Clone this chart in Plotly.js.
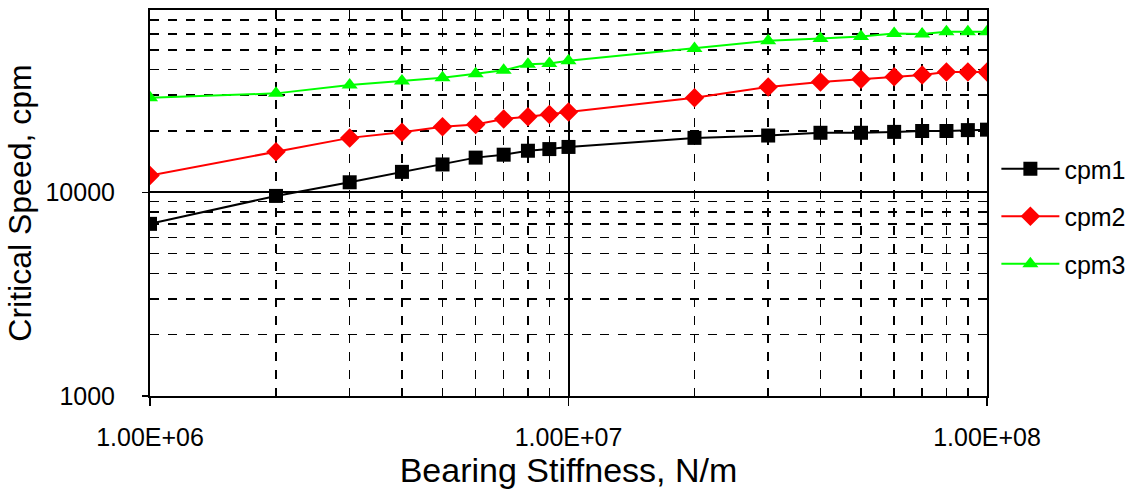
<!DOCTYPE html>
<html>
<head>
<meta charset="utf-8">
<script src="https://cdn.plot.ly/plotly-3.0.1.min.js"></script>
<style>html,body{margin:0;padding:0;background:#fff;}#chart{width:1140px;height:492px;}</style>
</head>
<body>
<div id="chart"></div>
<script>
const stiffness = [1e6, 2e6, 3e6, 4e6, 5e6, 6e6, 7e6, 8e6, 9e6, 1e7, 2e7, 3e7, 4e7, 5e7, 6e7, 7e7, 8e7, 9e7, 1e8];
const cpm1 = [7000, 9600, 11200, 12600, 13700, 14800, 15300, 16000, 16300, 16700, 18500, 19000, 19600, 19600, 19800, 20000, 20000, 20200, 20300];
const cpm2 = [12100, 15800, 18500, 19700, 21000, 21500, 22900, 23500, 24100, 24800, 29100, 32900, 34800, 35900, 36900, 37700, 39000, 39000, 39000];
const cpm3 = [29100, 30600, 33600, 35200, 36500, 38200, 39700, 42500, 42900, 44200, 50800, 55400, 56900, 58200, 60200, 59800, 61400, 61400, 61400];
const seriesNames = ['cpm1', 'cpm2', 'cpm3'];
const xTickVals = [1e6, 1e7, 1e8];
const xTickText = ['1.00E+06', '1.00E+07', '1.00E+08'];
const yTickVals = [1000, 10000];
const yTickText = ['1000', '10000'];

const font = 'Liberation Sans, Arial, sans-serif';
const traces = [
  {x: stiffness, y: cpm1, name: seriesNames[0], legendgroup: 'a', mode: 'lines+markers',
   line: {color: '#000000', width: 2}, marker: {symbol: 'square', size: 14, color: '#000000'}},
  {x: stiffness, y: cpm2, name: seriesNames[1], legendgroup: 'b', mode: 'lines+markers',
   line: {color: '#ff0000', width: 2}, marker: {symbol: 'diamond', size: 15, color: '#ff0000'}},
  {x: stiffness, y: cpm3, name: seriesNames[2], legendgroup: 'c', mode: 'lines+markers',
   line: {color: '#00ff00', width: 2}, marker: {symbol: 'triangle-up', size: 14, color: '#00ff00'}}
];
const layout = {
  width: 1140, height: 492,
  margin: {l: 150, r: 152, t: 10, b: 96},
  paper_bgcolor: '#ffffff', plot_bgcolor: '#ffffff',
  font: {family: font, color: '#000000'},
  showlegend: true,
  legend: {x: 1.01, xanchor: 'left', y: 0.465, yanchor: 'middle', font: {size: 25, family: font, color: '#000'},
           traceorder: 'grouped', tracegroupgap: 12, bgcolor: 'rgba(0,0,0,0)', itemwidth: 58},
  xaxis: {
    type: 'log', range: [6, 8], tickvals: xTickVals, ticktext: xTickText,
    showline: true, mirror: true, linecolor: '#000', linewidth: 2,
    showgrid: true, gridcolor: '#000', gridwidth: 2, zeroline: false,
    ticks: 'outside', ticklen: 8, tickcolor: '#000', tickwidth: 1.5,
    ticklabelstandoff: 10,
    tickfont: {size: 25, family: font, color: '#000'},
    minor: {dtick: 'D1', showgrid: true, gridcolor: '#000', griddash: 'dash', gridwidth: 1.5, ticks: ''},
    title: {text: 'Bearing Stiffness, N/m', font: {size: 34, family: font, color: '#000'}, standoff: 4}
  },
  yaxis: {
    type: 'log', range: [3, 4.895], tickvals: yTickVals, ticktext: yTickText,
    showline: true, mirror: true, linecolor: '#000', linewidth: 2,
    showgrid: true, gridcolor: '#000', gridwidth: 2, zeroline: false,
    ticks: 'outside', ticklen: 6, tickcolor: '#000', tickwidth: 1.5,
    ticklabelstandoff: 22,
    tickfont: {size: 25, family: font, color: '#000'},
    minor: {dtick: 'D1', showgrid: true, gridcolor: '#000', griddash: 'dash', gridwidth: 1.5, ticks: ''},
    title: {text: 'Critical Speed, cpm', font: {size: 32, family: font, color: '#000'}, standoff: 4}
  }
};
Plotly.newPlot('chart', traces, layout, {displayModeBar: false, staticPlot: true});
</script>
</body>
</html>
